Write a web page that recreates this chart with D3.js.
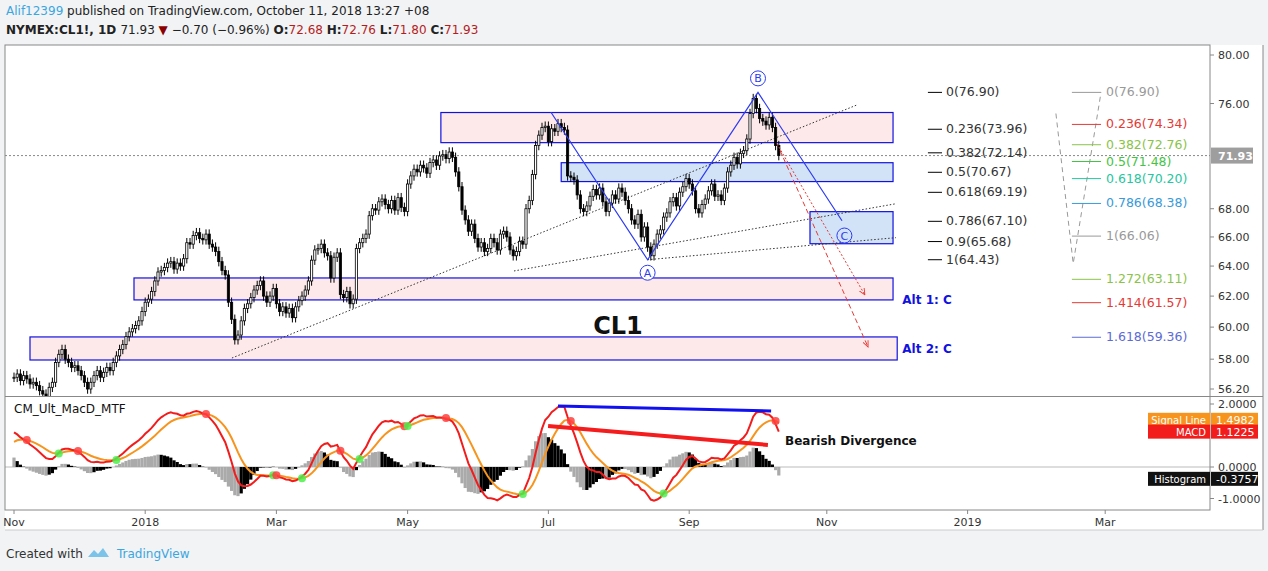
<!DOCTYPE html>
<html><head><meta charset="utf-8">
<script src="https://cdn.jsdelivr.net/npm/d3@7"></script>
<style>body{margin:0;background:#f1f3f5}svg{display:block}text{font-family:"DejaVu Sans",sans-serif}</style>
</head><body>
<svg id="c" width="1268" height="571"></svg>
<script>
// ---- data ----
const closes=[56.9,57.1,56.7,57.0,56.8, 56.5,56.6,56.4,56.1,55.9, 55.7,56.3,56.6,57.8,58.3,
58.6,58.0,57.8,57.5,57.6, 57.3,57.0,56.6,56.2,56.6, 57.0,57.3,56.9,57.2,57.5,
57.3,57.8,58.2,58.6,58.9, 59.4,59.7,59.9,60.1,60.4, 61.0,61.6,61.8,62.3,63.0,
63.6,63.7,63.9,64.2,64.3, 63.8,64.2,64.0,64.5,65.6, 65.5,66.1,66.3,65.9,65.8,
66.2,65.5,65.3,65.0,64.3, 63.7,63.4,61.6,60.5,59.2, 59.5,60.4,61.2,61.5,61.9,
62.4,62.7,63.0,62.0,61.6, 62.0,62.5,61.5,61.0,61.3, 60.9,61.2,60.6,61.3,61.7,
62.0,62.4,63.0,64.4,65.1, 65.2,65.5,64.9,64.7,63.2, 64.6,64.9,62.1,61.9,62.3,
61.5,61.8,65.2,65.6,65.9, 66.2,67.5,68.0,67.9,68.5, 68.7,68.3,68.0,68.6,67.9,
68.8,68.1,67.8,69.8,70.4, 70.9,70.7,71.2,71.0,70.6, 71.4,71.6,71.2,71.9,72.0,
71.7,72.2,71.8,70.7,69.6, 67.9,67.2,66.4,66.9,65.9, 65.3,65.6,65.0,65.2,65.9,
65.6,65.1,66.2,66.4,66.0, 65.1,64.7,65.0,65.7,65.5, 68.0,68.6,70.5,72.7,73.5,
74.1,74.2,73.0,74.0,73.8, 74.4,74.1,73.9,70.4,70.3, 70.1,69.0,68.0,67.8,68.2,
68.9,69.4,69.0,69.5,68.5, 67.8,68.4,69.0,68.7,69.5, 69.2,68.6,68.0,67.2,66.9,
67.6,66.0,66.7,65.3,64.7, 65.5,66.2,66.5,67.4,67.7, 68.5,68.8,68.2,69.2,69.6,
70.2,69.8,69.3,68.0,67.7, 68.3,68.7,69.3,69.8,68.9, 69.0,68.6,69.5,70.7,71.2,
71.8,71.3,72.1,72.3,73.2, 75.2,76.4,75.6,74.8,74.6, 74.3,74.9,74.1,72.7,71.93];
// MACD / signal values at the left edge of the chart
const macdStart=1.1, signalStart=0.8;
const tickIdx=[0,41,82,123,167,211,254,298,341];
const tickLabels=["Nov","2018","Mar","May","Jul","Sep","Nov","2019","Mar"];
const priceTicks=[80,76,68,66,64,62,60,58,56.2];
const macdTicks=[2,0,-1];
// zones: [i0,i1,pTop,pBottom,fill]
const zones=[[133.4,274.7,75.28,72.92,"pink"],[171,274.7,71.39,69.98,"blue"],[248.75,274.7,67.79,65.53,"blue"],
[37.5,274.7,63.2,61.75,"pink"],[5,276,59.38,57.95,"pink"]];
const abc=[[167.8,75.3],[198,64.43],[232.5,76.9],[258.75,67.14]];
const abcLabels=[["A",198,64.43,13],["B",232.5,76.9,-14],["C",259.5,66.1,0]];
const trendLines=[[[68.1,58.07],[263.75,75.92]],[[156.25,63.67],[275.6,68.36]],[[198,64.43],[275.6,65.95]]];
const arrows=[[[238.4,72.85],[265.9,62.08],"2,2"],[[239.4,72.31],[266.9,58.75],"5,3"]];
const fibLeft=[["0",76.90],["0.236",73.96],["0.382",72.14],["0.5",70.67],["0.618",69.19],["0.786",67.10],["0.9",65.68],["1",64.43]];
const fibRight=[["0",76.90,"#999"],["0.236",74.34,"#e53935"],["0.382",72.76,"#8bc34a"],["0.5",71.48,"#43c443"],["0.618",70.20,"#26c6a0"],["0.786",68.38,"#3a9ad9"],["1",66.06,"#999"],["1.272",63.11,"#8bc34a"],["1.414",61.57,"#e53935"],["1.618",59.36,"#5c6bd6"]];
const fibPath=[[325.6,75.2],[331,64.17],[339.7,76.9]];
const lastPrice=71.93;
const divBlue=[[170,1.94],[236.6,1.78]], divRed=[[166.9,1.30],[235.6,0.70]];
const macdLabels=[["Signal Line","1.4982",1.4982,"#f7941d"],["MACD","1.1225",1.1225,"#f21c1c"],["Histogram","-0.3757",-0.3757,"#111"]];

// ---- scales ----
const svg=d3.select("#c");
const x=d3.scaleLinear().domain([0,100]).range([14,334]);
const y=d3.scaleLog().domain([56.2,80]).range([389,55]);
const m=d3.scaleLinear().domain([-1,2]).range([498.5,404]);
const L=5,R=1210,T=45,PB=396,MB=510;

svg.append("rect").attr("x",L).attr("y",T).attr("width",R-L).attr("height",MB-T).attr("fill","#fff");
svg.append("rect").attr("x",R).attr("y",T).attr("width",1263-R).attr("height",MB-T+20).attr("fill","#fff");
svg.append("rect").attr("x",L).attr("y",MB).attr("width",R-L).attr("height",20).attr("fill","#fff");
const defs=svg.append("defs");
defs.append("clipPath").attr("id","cp").append("rect").attr("x",L).attr("y",T).attr("width",R-L).attr("height",PB-T);
defs.append("clipPath").attr("id","cm").append("rect").attr("x",L).attr("y",PB+1).attr("width",R-L).attr("height",MB-PB-1);
defs.append("marker").attr("id","ar").attr("viewBox","0 0 10 10").attr("refX",9).attr("refY",5)
 .attr("markerWidth",7).attr("markerHeight",7).attr("orient","auto").append("path").attr("d","M0,1L9,5L0,9").attr("fill","none").attr("stroke","#e53935").attr("stroke-width",1.3);

// header
const h1=svg.append("text").attr("x",6).attr("y",15).attr("font-size",12);
h1.append("tspan").attr("fill","#3ba6e0").text("Alif12399");
h1.append("tspan").attr("fill","#222").text(" published on TradingView.com, October 11, 2018 13:27 +08");
const h2=svg.append("text").attr("x",6).attr("y",34).attr("font-size",12).attr("fill","#222");
h2.append("tspan").attr("font-weight","bold").text("NYMEX:CL1!, 1D ");
h2.append("tspan").text(" 71.93 ");
h2.append("tspan").attr("fill","#8b0000").text("▼");
h2.append("tspan").text(" −0.70 (−0.96%) ");
[["O:","72.68"],["H:","72.76"],["L:","71.80"],["C:","71.93"]].forEach(([k,v])=>{h2.append("tspan").attr("font-weight","bold").text(k);h2.append("tspan").attr("fill","#b71c1c").text(v+" ");});

const P=svg.append("g").attr("clip-path","url(#cp)");
zones.forEach(z=>P.append("rect").attr("x",x(z[0])).attr("y",y(z[2])).attr("width",x(z[1])-x(z[0])).attr("height",y(z[3])-y(z[2]))
 .attr("fill",z[4]=="pink"?"#fde9ea":"#d2e2f7").attr("stroke","#1212e0").attr("stroke-width",1.2));
P.append("line").attr("x1",L).attr("x2",R).attr("y1",y(lastPrice)).attr("y2",y(lastPrice)).attr("stroke","#888").attr("stroke-dasharray","2,2");
trendLines.forEach(t=>P.append("line").attr("x1",x(t[0][0])).attr("y1",y(t[0][1])).attr("x2",x(t[1][0])).attr("y2",y(t[1][1]))
 .attr("stroke","#333").attr("stroke-dasharray","1.5,2"));
const bw=2.2;
closes.forEach((c,i)=>{
 const o=i?closes[i-1]:c, hi=Math.max(o,c)*1.005, lo=Math.min(o,c)*0.995, up=c>=o;
 P.append("line").attr("x1",x(i)).attr("x2",x(i)).attr("y1",y(hi)).attr("y2",y(lo)).attr("stroke","#000");
 P.append("rect").attr("x",x(i)-bw/2).attr("y",y(Math.max(o,c))).attr("width",bw).attr("height",Math.max(1,y(Math.min(o,c))-y(Math.max(o,c))))
  .attr("fill",up?"#fff":"#000").attr("stroke","#000").attr("stroke-width",0.8);
});
P.append("path").attr("d",d3.line().x(d=>x(d[0])).y(d=>y(d[1]))(abc)).attr("fill","none").attr("stroke","#2e3cf0").attr("stroke-width",1.2);
abcLabels.forEach(a=>{const cx=x(a[1]),cy=y(a[2])+a[3];
 P.append("circle").attr("cx",cx).attr("cy",cy).attr("r",7.5).attr("fill",a[0]=="C"?"#d2e2f7":"#fff").attr("stroke","#2e3cf0");
 P.append("text").attr("x",cx).attr("y",cy+4).attr("text-anchor","middle").attr("font-size",11).attr("fill","#2e3cf0").text(a[0]);});
arrows.forEach(a=>P.append("line").attr("x1",x(a[0][0])).attr("y1",y(a[0][1])).attr("x2",x(a[1][0])).attr("y2",y(a[1][1]))
 .attr("stroke","#e53935").attr("stroke-dasharray",a[2]).attr("marker-end","url(#ar)"));
fibLeft.forEach(f=>{P.append("line").attr("x1",x(285.6)).attr("x2",x(290)).attr("y1",y(f[1])).attr("y2",y(f[1])).attr("stroke","#000");
 P.append("text").attr("x",x(290)+4).attr("y",y(f[1])+4).attr("font-size",12.5).attr("fill","#333").text(f[0]+"("+f[1].toFixed(2)+")");});
P.append("path").attr("d",d3.line().x(d=>x(d[0])).y(d=>y(d[1]))(fibPath)).attr("fill","none").attr("stroke","#999").attr("stroke-dasharray","5,4");
fibRight.forEach(f=>{P.append("line").attr("x1",x(330.6)).attr("x2",x(339.7)).attr("y1",y(f[1])).attr("y2",y(f[1])).attr("stroke",f[2]);
 P.append("text").attr("x",x(339.7)+5).attr("y",y(f[1])+4).attr("font-size",12.5).attr("fill",f[2]).text(f[0]+"("+f[1].toFixed(2)+")");});
P.append("text").attr("x",x(277.6)).attr("y",y(61.75)+4).attr("font-size",12).attr("font-weight","bold").attr("fill","#1212e0").text("Alt 1: C");
P.append("text").attr("x",x(277.6)).attr("y",y(58.6)+4).attr("font-size",12).attr("font-weight","bold").attr("fill","#1212e0").text("Alt 2: C");
P.append("text").attr("x",618).attr("y",334).attr("text-anchor","middle").attr("font-size",24).attr("font-weight","bold").attr("fill","#111").text("CL1");

// ---- MACD ----
function ema(a,n,start){const k=2/(n+1);let e=start;return a.map((v,i)=>e=i?v*k+e*(1-k):start);}
const e12=ema(closes,12,closes[0]),e26=ema(closes,26,closes[0]-macdStart);
const macd=closes.map((c,i)=>e12[i]-e26[i]), sig=ema(macd,9,signalStart), hist=macd.map((v,i)=>v-sig[i]);
const M=svg.append("g").attr("clip-path","url(#cm)");
M.append("line").attr("x1",L).attr("x2",R).attr("y1",m(0)).attr("y2",m(0)).attr("stroke","#bbb");
hist.forEach((h,i)=>{const rising=i?h>=hist[i-1]:true;
 M.append("rect").attr("x",x(i)-1.6).attr("width",3.2).attr("y",Math.min(m(0),m(h))).attr("height",Math.abs(m(h)-m(0)))
  .attr("fill",(h>=0)==rising?"#aaa":"#000");});
const ln=d3.line().x((d,i)=>x(i)).y(d=>m(d));
M.append("path").attr("d",ln(sig)).attr("fill","none").attr("stroke","#f7941d").attr("stroke-width",2);
M.append("path").attr("d",ln(macd)).attr("fill","none").attr("stroke","#f21c1c").attr("stroke-width",2);
macd.forEach((v,i)=>{if(!i)return;const a=macd[i-1]-sig[i-1],b=v-sig[i];
 if(a*b<0)M.append("circle").attr("cx",x(i)).attr("cy",m(sig[i])).attr("r",4).attr("fill",b<0?"#ff4040":"#4cf04c").attr("opacity",0.85);});
M.append("line").attr("x1",x(divBlue[0][0])).attr("y1",m(divBlue[0][1])).attr("x2",x(divBlue[1][0])).attr("y2",m(divBlue[1][1])).attr("stroke","#1010f0").attr("stroke-width",3);
M.append("line").attr("x1",x(divRed[0][0])).attr("y1",m(divRed[0][1])).attr("x2",x(divRed[1][0])).attr("y2",m(divRed[1][1])).attr("stroke","#f41c1c").attr("stroke-width",4);
M.append("text").attr("x",785).attr("y",445).attr("font-size",12).attr("font-weight","bold").attr("fill","#111").text("Bearish Divergence");
M.append("text").attr("x",14).attr("y",413).attr("font-size",12).attr("fill","#111").text("CM_Ult_MacD_MTF");

svg.append("rect").attr("x",L).attr("y",T).attr("width",R-L).attr("height",MB-T).attr("fill","none").attr("stroke","#888");
svg.append("line").attr("x1",L).attr("x2",1263).attr("y1",PB+0.5).attr("y2",PB+0.5).attr("stroke","#888");
svg.append("line").attr("x1",1263).attr("x2",1263).attr("y1",T).attr("y2",MB+20).attr("stroke","#888");
svg.append("line").attr("x1",L).attr("x2",1263).attr("y1",MB+20).attr("y2",MB+20).attr("stroke","#ccc");

priceTicks.forEach(p=>{svg.append("line").attr("x1",R).attr("x2",R+4).attr("y1",y(p)).attr("y2",y(p)).attr("stroke","#888");
 svg.append("text").attr("x",R+8).attr("y",y(p)+4).attr("font-size",11).attr("fill","#333").text(p.toFixed(2));});
svg.append("rect").attr("x",R+1).attr("y",y(lastPrice)-8).attr("width",42).attr("height",16).attr("fill","#9e9e9e");
svg.append("text").attr("x",R+8).attr("y",y(lastPrice)+4).attr("font-size",11).attr("font-weight","bold").attr("fill","#fff").text(lastPrice.toFixed(2));
macdTicks.forEach(v=>{svg.append("line").attr("x1",R).attr("x2",R+4).attr("y1",m(v)).attr("y2",m(v)).attr("stroke","#888");
 svg.append("text").attr("x",R+8).attr("y",m(v)+4).attr("font-size",11).attr("fill","#333").text(v.toFixed(4));});
macdLabels.forEach(l=>{const yy=m(l[2]);
 svg.append("rect").attr("x",R-62).attr("y",yy-7).attr("width",62).attr("height",14).attr("fill",l[3]);
 svg.append("text").attr("x",R-4).attr("y",yy+4).attr("text-anchor","end").attr("font-size",10).attr("fill","#fff").text(l[0]);
 svg.append("rect").attr("x",R+1).attr("y",yy-7).attr("width",47).attr("height",14).attr("fill",l[3]);
 svg.append("text").attr("x",R+6).attr("y",yy+4).attr("font-size",11).attr("fill","#fff").text(l[1]);});
tickIdx.forEach((t,i)=>{svg.append("line").attr("x1",x(t)).attr("x2",x(t)).attr("y1",MB).attr("y2",MB+4).attr("stroke","#888");
 svg.append("text").attr("x",x(t)).attr("y",MB+16).attr("text-anchor","middle").attr("font-size",11).attr("fill","#333").text(tickLabels[i]);});
const f=svg.append("text").attr("x",6).attr("y",558).attr("font-size",12);
f.append("tspan").attr("fill","#333").text("Created with ");
svg.append("path").attr("d","M88,557 l6,-7 l4,4 l5,-6 l6,9 z").attr("fill","#7cc3ea");
svg.append("text").attr("x",117).attr("y",558).attr("font-size",12).attr("fill","#3ba6e0").text("TradingView");
</script></body></html>
